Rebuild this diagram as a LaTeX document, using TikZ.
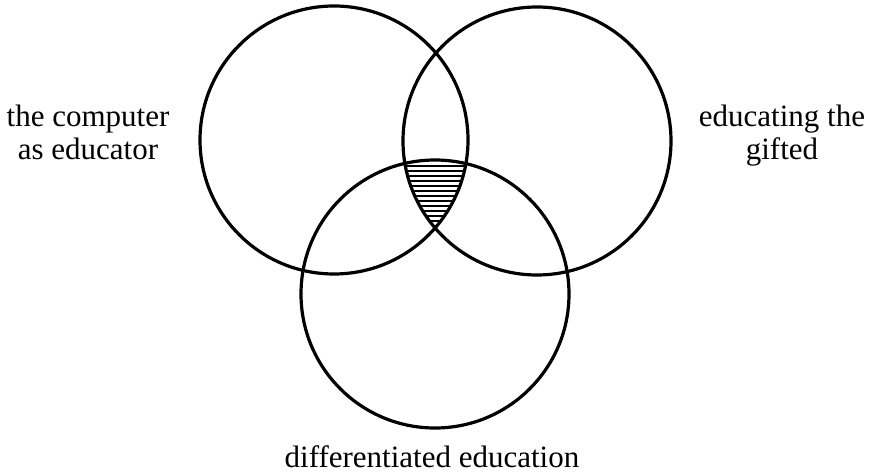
\documentclass[tikz,border=0pt]{standalone}
\usepackage{fontspec}
\setmainfont{Liberation Serif}
\begin{document}
\begin{tikzpicture}[x=1pt,y=-1pt,
  ring/.style={circle,draw=black,line width=3.2pt,minimum size=268pt,inner sep=0pt},
  lbl/.style={font=\fontsize{31}{33}\selectfont,align=center,anchor=base,inner sep=0pt},
  hatch/.style={line width=1.6pt}]
\useasboundingbox (0,0) rectangle (876,476);
% hatched triple intersection
\begin{scope}
  \clip (334,140) circle (134);
  \clip (537,141) circle (134);
  \clip (435,294) circle (134);
  \foreach \y in {166,171,...,231} {
    \draw[hatch] (380,\y) -- (490,\y);
  }
\end{scope}
\node[ring] (L) at (334,140) {};
\node[ring] (R) at (537,141) {};
\node[ring] (B) at (435,294) {};
\node[lbl] (tl) at (88,160) {the computer\\as educator};
\node[lbl] (tr) at (782,160) {educating the\\gifted};
\node[lbl] (tb) at (432,467) {differentiated education};
\end{tikzpicture}
\end{document}
